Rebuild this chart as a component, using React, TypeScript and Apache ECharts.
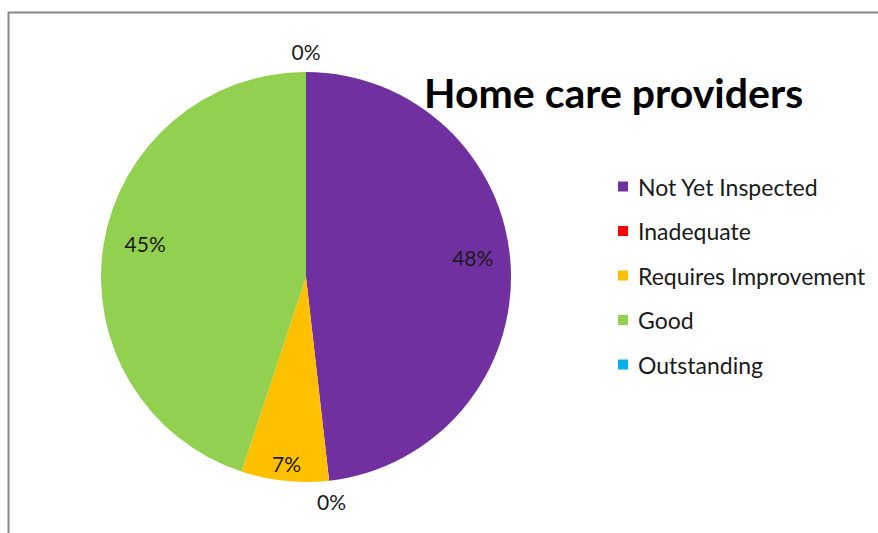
import React, { useEffect, useRef } from "react";
import * as echarts from "echarts";

const title = "Home care providers";
const categories = ["Not Yet Inspected", "Inadequate", "Requires Improvement", "Good", "Outstanding"];
const values = [48.2, 0, 6.9, 44.9, 0];
const colors = ["#7030A0", "#FF0000", "#FFC000", "#92D050", "#00B0F0"];

export default function App() {
  const ref = useRef<HTMLDivElement>(null);
  useEffect(() => {
    if (!ref.current) return;
    const chart = echarts.init(ref.current, null, { renderer: "svg" });
    const R = 205;
    const center = [306, 277];
    const font = "Lato, 'Open Sans', sans-serif";
    const data = categories.map((name, i) => ({ name, value: values[i], itemStyle: { color: colors[i] } }));
    const labelStyle = { fontFamily: font, fontSize: 21, color: "#1a1a1a" };
    const labelOffsets: Record<number, number[]> = { 0: [0, -10], 3: [4, -7] };
    const overlay = (radius: any, filter: (v: number, i: number) => boolean) => ({
      type: "pie",
      center,
      radius,
      startAngle: 90,
      clockwise: true,
      silent: true,
      percentPrecision: 0,
      legendHoverLink: false,
      data: categories.map((name, i) => ({
        name,
        value: values[i],
        itemStyle: { color: "rgba(0,0,0,0)" },
        label: { show: filter(values[i], i), offset: labelOffsets[i] || [0, 0] },
      })),
      label: { position: "inside", formatter: "{d}%", ...labelStyle },
      labelLine: { show: false },
      tooltip: { show: false },
    });
    chart.setOption({
      animation: false,
      graphic: [
        {
          type: "rect",
          shape: { x: 8.5, y: 12.5, width: 1000, height: 1000 },
          style: { fill: "none", stroke: "#888", lineWidth: 2 },
          silent: true,
        },
        {
          type: "text",
          left: 424,
          top: 72,
          style: { text: title, fontFamily: font, fontWeight: "bold", fontSize: 41, fill: "#000" },
        },
      ],
      legend: {
        orient: "vertical",
        left: 618,
        top: 175,
        padding: 0,
        icon: "rect",
        itemWidth: 10,
        itemHeight: 10,
        itemGap: 21.5,
        selectedMode: false,
        data: categories,
        textStyle: { fontFamily: font, fontSize: 23, lineHeight: 20, color: "#1a1a1a", padding: [0, 0, 0, 5] },
      },
      series: [
        {
          type: "pie",
          center,
          radius: R,
          startAngle: 90,
          clockwise: true,
          percentPrecision: 0,
          data,
          label: { show: false },
          labelLine: { show: false },
        },
        overlay([R * 0.6, R], (v, i) => v > 0 && i !== 2),
        overlay([R * 0.8, R], (v, i) => i === 2),
        overlay([R + 6, R + 30], (v) => v === 0),
      ],
    });
    return () => chart.dispose();
  }, []);
  return <div ref={ref} style={{ position: "absolute", left: 0, top: 0, width: 878, height: 533 }} />;
}
